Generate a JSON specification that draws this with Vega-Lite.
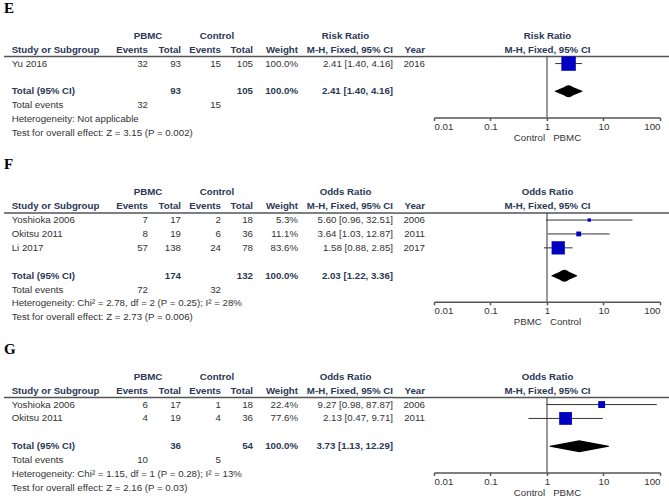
{
"$schema":"https://vega.github.io/schema/vega-lite/v6.json",
"padding":{"left":3,"top":0,"right":0,"bottom":0},
"config":{"view":{"stroke":null},"text":{"font":"Liberation Sans","fontSize":9.7,"baseline":"middle"}},
"datasets":{
"cells":[
{"p":"E","row":"lbl","col":"lbl","text":"E"},
{"p":"E","row":"h1","col":"pbmc_g","text":"PBMC"},
{"p":"E","row":"h1","col":"ctrl_g","text":"Control"},
{"p":"E","row":"h1","col":"ratio_g","text":"Risk Ratio"},
{"p":"E","row":"h1","col":"forest_g","text":"Risk Ratio"},
{"p":"E","row":"h2","col":"study","text":"Study or Subgroup"},
{"p":"E","row":"h2","col":"pe","text":"Events"},
{"p":"E","row":"h2","col":"pt","text":"Total"},
{"p":"E","row":"h2","col":"ce","text":"Events"},
{"p":"E","row":"h2","col":"ct","text":"Total"},
{"p":"E","row":"h2","col":"weight","text":"Weight"},
{"p":"E","row":"h2","col":"ci","text":"M-H, Fixed, 95% CI"},
{"p":"E","row":"h2","col":"year","text":"Year"},
{"p":"E","row":"h2","col":"forest_g","text":"M-H, Fixed, 95% CI"},
{"p":"E","row":"s1","col":"study","text":"Yu 2016"},
{"p":"E","row":"s1","col":"pe","text":"32"},
{"p":"E","row":"s1","col":"pt","text":"93"},
{"p":"E","row":"s1","col":"ce","text":"15"},
{"p":"E","row":"s1","col":"ct","text":"105"},
{"p":"E","row":"s1","col":"weight","text":"100.0%"},
{"p":"E","row":"s1","col":"ci","text":"2.41 [1.40, 4.16]"},
{"p":"E","row":"s1","col":"year","text":"2016"},
{"p":"E","row":"total","col":"study","text":"Total (95% CI)"},
{"p":"E","row":"total","col":"pt","text":"93"},
{"p":"E","row":"total","col":"ct","text":"105"},
{"p":"E","row":"total","col":"weight","text":"100.0%"},
{"p":"E","row":"total","col":"ci","text":"2.41 [1.40, 4.16]"},
{"p":"E","row":"events","col":"study","text":"Total events"},
{"p":"E","row":"events","col":"pe","text":"32"},
{"p":"E","row":"events","col":"ce","text":"15"},
{"p":"E","row":"het","col":"study","text":"Heterogeneity: Not applicable"},
{"p":"E","row":"test","col":"study","text":"Test for overall effect: Z = 3.15 (P = 0.002)"},
{"p":"F","row":"lbl","col":"lbl","text":"F"},
{"p":"F","row":"h1","col":"pbmc_g","text":"PBMC"},
{"p":"F","row":"h1","col":"ctrl_g","text":"Control"},
{"p":"F","row":"h1","col":"ratio_g","text":"Odds Ratio"},
{"p":"F","row":"h1","col":"forest_g","text":"Odds Ratio"},
{"p":"F","row":"h2","col":"study","text":"Study or Subgroup"},
{"p":"F","row":"h2","col":"pe","text":"Events"},
{"p":"F","row":"h2","col":"pt","text":"Total"},
{"p":"F","row":"h2","col":"ce","text":"Events"},
{"p":"F","row":"h2","col":"ct","text":"Total"},
{"p":"F","row":"h2","col":"weight","text":"Weight"},
{"p":"F","row":"h2","col":"ci","text":"M-H, Fixed, 95% CI"},
{"p":"F","row":"h2","col":"year","text":"Year"},
{"p":"F","row":"h2","col":"forest_g","text":"M-H, Fixed, 95% CI"},
{"p":"F","row":"s1","col":"study","text":"Yoshioka 2006"},
{"p":"F","row":"s1","col":"pe","text":"7"},
{"p":"F","row":"s1","col":"pt","text":"17"},
{"p":"F","row":"s1","col":"ce","text":"2"},
{"p":"F","row":"s1","col":"ct","text":"18"},
{"p":"F","row":"s1","col":"weight","text":"5.3%"},
{"p":"F","row":"s1","col":"ci","text":"5.60 [0.96, 32.51]"},
{"p":"F","row":"s1","col":"year","text":"2006"},
{"p":"F","row":"s2","col":"study","text":"Okitsu 2011"},
{"p":"F","row":"s2","col":"pe","text":"8"},
{"p":"F","row":"s2","col":"pt","text":"19"},
{"p":"F","row":"s2","col":"ce","text":"6"},
{"p":"F","row":"s2","col":"ct","text":"36"},
{"p":"F","row":"s2","col":"weight","text":"11.1%"},
{"p":"F","row":"s2","col":"ci","text":"3.64 [1.03, 12.87]"},
{"p":"F","row":"s2","col":"year","text":"2011"},
{"p":"F","row":"s3","col":"study","text":"Li 2017"},
{"p":"F","row":"s3","col":"pe","text":"57"},
{"p":"F","row":"s3","col":"pt","text":"138"},
{"p":"F","row":"s3","col":"ce","text":"24"},
{"p":"F","row":"s3","col":"ct","text":"78"},
{"p":"F","row":"s3","col":"weight","text":"83.6%"},
{"p":"F","row":"s3","col":"ci","text":"1.58 [0.88, 2.85]"},
{"p":"F","row":"s3","col":"year","text":"2017"},
{"p":"F","row":"total","col":"study","text":"Total (95% CI)"},
{"p":"F","row":"total","col":"pt","text":"174"},
{"p":"F","row":"total","col":"ct","text":"132"},
{"p":"F","row":"total","col":"weight","text":"100.0%"},
{"p":"F","row":"total","col":"ci","text":"2.03 [1.22, 3.36]"},
{"p":"F","row":"events","col":"study","text":"Total events"},
{"p":"F","row":"events","col":"pe","text":"72"},
{"p":"F","row":"events","col":"ce","text":"32"},
{"p":"F","row":"het","col":"study","text":"Heterogeneity: Chi² = 2.78, df = 2 (P = 0.25); I² = 28%"},
{"p":"F","row":"test","col":"study","text":"Test for overall effect: Z = 2.73 (P = 0.006)"},
{"p":"G","row":"lbl","col":"lbl","text":"G"},
{"p":"G","row":"h1","col":"pbmc_g","text":"PBMC"},
{"p":"G","row":"h1","col":"ctrl_g","text":"Control"},
{"p":"G","row":"h1","col":"ratio_g","text":"Odds Ratio"},
{"p":"G","row":"h1","col":"forest_g","text":"Odds Ratio"},
{"p":"G","row":"h2","col":"study","text":"Study or Subgroup"},
{"p":"G","row":"h2","col":"pe","text":"Events"},
{"p":"G","row":"h2","col":"pt","text":"Total"},
{"p":"G","row":"h2","col":"ce","text":"Events"},
{"p":"G","row":"h2","col":"ct","text":"Total"},
{"p":"G","row":"h2","col":"weight","text":"Weight"},
{"p":"G","row":"h2","col":"ci","text":"M-H, Fixed, 95% CI"},
{"p":"G","row":"h2","col":"year","text":"Year"},
{"p":"G","row":"h2","col":"forest_g","text":"M-H, Fixed, 95% CI"},
{"p":"G","row":"s1","col":"study","text":"Yoshioka 2006"},
{"p":"G","row":"s1","col":"pe","text":"6"},
{"p":"G","row":"s1","col":"pt","text":"17"},
{"p":"G","row":"s1","col":"ce","text":"1"},
{"p":"G","row":"s1","col":"ct","text":"18"},
{"p":"G","row":"s1","col":"weight","text":"22.4%"},
{"p":"G","row":"s1","col":"ci","text":"9.27 [0.98, 87.87]"},
{"p":"G","row":"s1","col":"year","text":"2006"},
{"p":"G","row":"s2","col":"study","text":"Okitsu 2011"},
{"p":"G","row":"s2","col":"pe","text":"4"},
{"p":"G","row":"s2","col":"pt","text":"19"},
{"p":"G","row":"s2","col":"ce","text":"4"},
{"p":"G","row":"s2","col":"ct","text":"36"},
{"p":"G","row":"s2","col":"weight","text":"77.6%"},
{"p":"G","row":"s2","col":"ci","text":"2.13 [0.47, 9.71]"},
{"p":"G","row":"s2","col":"year","text":"2011"},
{"p":"G","row":"total","col":"study","text":"Total (95% CI)"},
{"p":"G","row":"total","col":"pt","text":"36"},
{"p":"G","row":"total","col":"ct","text":"54"},
{"p":"G","row":"total","col":"weight","text":"100.0%"},
{"p":"G","row":"total","col":"ci","text":"3.73 [1.13, 12.29]"},
{"p":"G","row":"events","col":"study","text":"Total events"},
{"p":"G","row":"events","col":"pe","text":"10"},
{"p":"G","row":"events","col":"ce","text":"5"},
{"p":"G","row":"het","col":"study","text":"Heterogeneity: Chi² = 1.15, df = 1 (P = 0.28); I² = 13%"},
{"p":"G","row":"test","col":"study","text":"Test for overall effect: Z = 2.16 (P = 0.03)"}
],
"studies":[
{"p":"E","row":"s1","est":2.41,"lo":1.40,"hi":4.16,"w":100},
{"p":"F","row":"s1","est":5.60,"lo":0.96,"hi":32.51,"w":5.3},
{"p":"F","row":"s2","est":3.64,"lo":1.03,"hi":12.87,"w":11.1},
{"p":"F","row":"s3","est":1.58,"lo":0.88,"hi":2.85,"w":83.6},
{"p":"G","row":"s1","est":9.27,"lo":0.98,"hi":87.87,"w":22.4},
{"p":"G","row":"s2","est":2.13,"lo":0.47,"hi":9.71,"w":77.6}
],
"pooled":[
{"p":"E","kind":"edge","value":1.40},{"p":"E","kind":"est","value":2.41},{"p":"E","kind":"edge","value":4.16},
{"p":"F","kind":"edge","value":1.22},{"p":"F","kind":"est","value":2.03},{"p":"F","kind":"edge","value":3.36},
{"p":"G","kind":"edge","value":1.13},{"p":"G","kind":"est","value":3.73},{"p":"G","kind":"edge","value":12.29}
]
},
"spacing":14.5,
"resolve":{"scale":{"x":"independent","y":"independent","size":"independent"}},
"vconcat":[
{"spacing":0,"bounds":"flush","resolve":{"scale":{"x":"independent","y":"independent","size":"independent"}},
"hconcat":[
{"width":111,"height":139,"resolve":{"scale":{"x":"independent"}},"layer":[
 {"data":{"name":"cells"},"transform":[{"filter":"datum.p=='E' && datum.col=='lbl'"}],"mark":{"type":"text","align":"left","font":"Liberation Serif","fontSize":15,"fontWeight":"bold","fill":"#000000"},
  "encoding":{"x":{"field":"col","type":"nominal","bandPosition":0,"scale":{"type":"band","domain":["lbl"],"paddingInner":0,"paddingOuter":0},"axis":null},
  "y":{"field":"row","type":"nominal","bandPosition":0.5,"scale":{"type":"band","domain":["lbl","sp","h1","h2","s1","gap","total","events","het","test"],"paddingInner":0,"paddingOuter":0},"axis":null},"text":{"field":"text"}}},
 {"data":{"name":"cells"},"transform":[{"filter":"datum.p=='E' && datum.col=='study'"}],"mark":{"type":"text","align":"left","fontWeight":{"expr":"indexof(['h1','h2','total'],datum.row)>=0?'bold':'normal'"},"fill":{"expr":"indexof(['h1','h2','total'],datum.row)>=0?'#2b3856':'#333333'"}},
  "encoding":{"x":{"field":"col","type":"nominal","bandPosition":0,"scale":{"type":"band","domain":["study"],"paddingInner":0,"paddingOuter":0.08},"axis":null},
  "y":{"field":"row","type":"nominal","bandPosition":0.5,"scale":{"type":"band","domain":["lbl","sp","h1","h2","s1","gap","total","events","het","test"],"paddingInner":0,"paddingOuter":0},"axis":null},"text":{"field":"text"}}},
 {"data":{"values":[{}]},"mark":{"type":"rule","color":"#555555","strokeWidth":1.5},"encoding":{"y":{"datum":"h2","type":"nominal","bandPosition":1,"scale":{"type":"band","domain":["lbl","sp","h1","h2","s1","gap","total","events","het","test"],"paddingInner":0,"paddingOuter":0},"axis":null}}}
]},
{"width":66,"height":139,"layer":[
 {"data":{"name":"cells"},"transform":[{"filter":"datum.p=='E' && (datum.col=='pe' || datum.col=='pt')"}],"mark":{"type":"text","align":"right","fontWeight":{"expr":"indexof(['h1','h2','total'],datum.row)>=0?'bold':'normal'"},"fill":{"expr":"indexof(['h1','h2','total'],datum.row)>=0?'#2b3856':'#333333'"}},
  "encoding":{"x":{"field":"col","type":"nominal","bandPosition":1,"scale":{"type":"band","domain":["pe","pt"],"paddingInner":0,"paddingOuter":0},"axis":null},
  "y":{"field":"row","type":"nominal","bandPosition":0.5,"scale":{"type":"band","domain":["lbl","sp","h1","h2","s1","gap","total","events","het","test"],"paddingInner":0,"paddingOuter":0},"axis":null},"text":{"field":"text"}}},
 {"data":{"name":"cells"},"transform":[{"filter":"datum.p=='E' && datum.col=='pbmc_g'"}],"mark":{"type":"text","align":"center","fontWeight":"bold","fill":"#2b3856"},
  "encoding":{"y":{"field":"row","type":"nominal","bandPosition":0.5,"scale":{"type":"band","domain":["lbl","sp","h1","h2","s1","gap","total","events","het","test"],"paddingInner":0,"paddingOuter":0},"axis":null},"text":{"field":"text"}}},
 {"data":{"values":[{}]},"mark":{"type":"rule","color":"#555555","strokeWidth":1.5},"encoding":{"y":{"datum":"h2","type":"nominal","bandPosition":1,"scale":{"type":"band","domain":["lbl","sp","h1","h2","s1","gap","total","events","het","test"],"paddingInner":0,"paddingOuter":0},"axis":null}}}
]},
{"width":72,"height":139,"layer":[
 {"data":{"name":"cells"},"transform":[{"filter":"datum.p=='E' && (datum.col=='ce' || datum.col=='ct')"}],"mark":{"type":"text","align":"right","fontWeight":{"expr":"indexof(['h1','h2','total'],datum.row)>=0?'bold':'normal'"},"fill":{"expr":"indexof(['h1','h2','total'],datum.row)>=0?'#2b3856':'#333333'"}},
  "encoding":{"x":{"field":"col","type":"nominal","bandPosition":1,"scale":{"type":"band","domain":["ce","ct"],"paddingInner":0,"paddingOuter":0.125,"align":1},"axis":null},
  "y":{"field":"row","type":"nominal","bandPosition":0.5,"scale":{"type":"band","domain":["lbl","sp","h1","h2","s1","gap","total","events","het","test"],"paddingInner":0,"paddingOuter":0},"axis":null},"text":{"field":"text"}}},
 {"data":{"name":"cells"},"transform":[{"filter":"datum.p=='E' && datum.col=='ctrl_g'"}],"mark":{"type":"text","align":"center","fontWeight":"bold","fill":"#2b3856"},
  "encoding":{"y":{"field":"row","type":"nominal","bandPosition":0.5,"scale":{"type":"band","domain":["lbl","sp","h1","h2","s1","gap","total","events","het","test"],"paddingInner":0,"paddingOuter":0},"axis":null},"text":{"field":"text"}}},
 {"data":{"values":[{}]},"mark":{"type":"rule","color":"#555555","strokeWidth":1.5},"encoding":{"y":{"datum":"h2","type":"nominal","bandPosition":1,"scale":{"type":"band","domain":["lbl","sp","h1","h2","s1","gap","total","events","het","test"],"paddingInner":0,"paddingOuter":0},"axis":null}}}
]},
{"width":45,"height":139,"layer":[
 {"data":{"name":"cells"},"transform":[{"filter":"datum.p=='E' && datum.col=='weight'"}],"mark":{"type":"text","align":"right","fontWeight":{"expr":"indexof(['h1','h2','total'],datum.row)>=0?'bold':'normal'"},"fill":{"expr":"indexof(['h1','h2','total'],datum.row)>=0?'#2b3856':'#333333'"}},
  "encoding":{"x":{"field":"col","type":"nominal","bandPosition":1,"scale":{"type":"band","domain":["weight"],"paddingInner":0,"paddingOuter":0},"axis":null},
  "y":{"field":"row","type":"nominal","bandPosition":0.5,"scale":{"type":"band","domain":["lbl","sp","h1","h2","s1","gap","total","events","het","test"],"paddingInner":0,"paddingOuter":0},"axis":null},"text":{"field":"text"}}},
 {"data":{"values":[{}]},"mark":{"type":"rule","color":"#555555","strokeWidth":1.5},"encoding":{"y":{"datum":"h2","type":"nominal","bandPosition":1,"scale":{"type":"band","domain":["lbl","sp","h1","h2","s1","gap","total","events","het","test"],"paddingInner":0,"paddingOuter":0},"axis":null}}}
]},
{"width":95,"height":139,"layer":[
 {"data":{"name":"cells"},"transform":[{"filter":"datum.p=='E' && datum.col=='ci'"}],"mark":{"type":"text","align":"right","fontWeight":{"expr":"indexof(['h1','h2','total'],datum.row)>=0?'bold':'normal'"},"fill":{"expr":"indexof(['h1','h2','total'],datum.row)>=0?'#2b3856':'#333333'"}},
  "encoding":{"x":{"field":"col","type":"nominal","bandPosition":1,"scale":{"type":"band","domain":["ci"],"paddingInner":0,"paddingOuter":0},"axis":null},
  "y":{"field":"row","type":"nominal","bandPosition":0.5,"scale":{"type":"band","domain":["lbl","sp","h1","h2","s1","gap","total","events","het","test"],"paddingInner":0,"paddingOuter":0},"axis":null},"text":{"field":"text"}}},
 {"data":{"name":"cells"},"transform":[{"filter":"datum.p=='E' && datum.col=='ratio_g'"}],"mark":{"type":"text","align":"center","fontWeight":"bold","fill":"#2b3856"},
  "encoding":{"y":{"field":"row","type":"nominal","bandPosition":0.5,"scale":{"type":"band","domain":["lbl","sp","h1","h2","s1","gap","total","events","het","test"],"paddingInner":0,"paddingOuter":0},"axis":null},"text":{"field":"text"}}},
 {"data":{"values":[{}]},"mark":{"type":"rule","color":"#555555","strokeWidth":1.5},"encoding":{"y":{"datum":"h2","type":"nominal","bandPosition":1,"scale":{"type":"band","domain":["lbl","sp","h1","h2","s1","gap","total","events","het","test"],"paddingInner":0,"paddingOuter":0},"axis":null}}}
]},
{"width":32,"height":139,"layer":[
 {"data":{"name":"cells"},"transform":[{"filter":"datum.p=='E' && datum.col=='year'"}],"mark":{"type":"text","align":"right","fontWeight":{"expr":"indexof(['h1','h2','total'],datum.row)>=0?'bold':'normal'"},"fill":{"expr":"indexof(['h1','h2','total'],datum.row)>=0?'#2b3856':'#333333'"}},
  "encoding":{"x":{"field":"col","type":"nominal","bandPosition":1,"scale":{"type":"band","domain":["year"],"paddingInner":0,"paddingOuter":0},"axis":null},
  "y":{"field":"row","type":"nominal","bandPosition":0.5,"scale":{"type":"band","domain":["lbl","sp","h1","h2","s1","gap","total","events","het","test"],"paddingInner":0,"paddingOuter":0},"axis":null},"text":{"field":"text"}}},
 {"data":{"values":[{}]},"mark":{"type":"rule","color":"#555555","strokeWidth":1.5},"encoding":{"y":{"datum":"h2","type":"nominal","bandPosition":1,"scale":{"type":"band","domain":["lbl","sp","h1","h2","s1","gap","total","events","het","test"],"paddingInner":0,"paddingOuter":0},"axis":null}}}
]},
{"width":245,"height":139,"resolve":{"scale":{"size":"independent"}},"layer":[
 {"data":{"values":[{}]},"mark":{"type":"rule","color":"#555555","strokeWidth":1.5},"encoding":{"y":{"datum":"h2","type":"nominal","bandPosition":1,"scale":{"type":"band","domain":["lbl","sp","h1","h2","s1","gap","total","events","het","test"],"paddingInner":0,"paddingOuter":0},"axis":null}}},
 {"data":{"name":"cells"},"transform":[{"filter":"datum.p=='E' && datum.col=='forest_g'"}],"mark":{"type":"text","align":"center","fontWeight":"bold","fill":"#2b3856"},
  "encoding":{"y":{"field":"row","type":"nominal","bandPosition":0.5,"scale":{"type":"band","domain":["lbl","sp","h1","h2","s1","gap","total","events","het","test"],"paddingInner":0,"paddingOuter":0},"axis":null},"text":{"field":"text"}}},
 {"data":{"values":[{}]},"mark":{"type":"rule","color":"#333333","strokeWidth":1},"encoding":{
  "x":{"datum":1,"type":"quantitative","scale":{"type":"log","domain":[0.01,100],"range":[9,235],"nice":false},
   "axis":{"orient":"bottom","offset":-22.5,"values":[0.01,0.1,1,10,100],"format":".2~f","labelFlush":true,"grid":false,"tickSize":3,"tickColor":"#555555","tickWidth":1.5,"domainColor":"#555555","domainWidth":1.5,"labelFont":"Liberation Sans","labelFontSize":9.7,"labelColor":"#333333","labelPadding":1,"title":"Control\u00a0\u00a0\u00a0PBMC\u00a0","titleFont":"Liberation Sans","titleFontSize":9.7,"titleFontWeight":"normal","titleColor":"#333333","titlePadding":1}},
  "y":{"datum":"h2","type":"nominal","bandPosition":1,"scale":{"type":"band","domain":["lbl","sp","h1","h2","s1","gap","total","events","het","test"],"paddingInner":0,"paddingOuter":0},"axis":null},
  "y2":{"datum":"het","bandPosition":0.38}}},
 {"data":{"name":"studies"},"transform":[{"filter":"datum.p=='E'"}],"mark":{"type":"rule","color":"#333333","strokeWidth":1},"encoding":{
  "x":{"field":"lo","type":"quantitative","scale":{"type":"log","domain":[0.01,100],"range":[9,235],"nice":false}},"x2":{"field":"hi"},
  "y":{"field":"row","type":"nominal","bandPosition":0.5,"scale":{"type":"band","domain":["lbl","sp","h1","h2","s1","gap","total","events","het","test"],"paddingInner":0,"paddingOuter":0},"axis":null}}},
 {"data":{"name":"studies"},"transform":[{"filter":"datum.p=='E'"}],"mark":{"type":"square","filled":true,"color":"#0000c0","opacity":1},"encoding":{
  "x":{"field":"est","type":"quantitative","scale":{"type":"log","domain":[0.01,100],"range":[9,235],"nice":false}},
  "y":{"field":"row","type":"nominal","bandPosition":0.5,"scale":{"type":"band","domain":["lbl","sp","h1","h2","s1","gap","total","events","het","test"],"paddingInner":0,"paddingOuter":0},"axis":null},
  "size":{"field":"w","type":"quantitative","scale":{"domain":[0,100],"range":[0,210]},"legend":null}}},
 {"data":{"name":"pooled"},"transform":[{"filter":"datum.p=='E'"}],"mark":{"type":"trail","color":"#000000"},"encoding":{
  "x":{"field":"value","type":"quantitative","scale":{"type":"log","domain":[0.01,100],"range":[9,235],"nice":false}},
  "y":{"datum":"total","type":"nominal","bandPosition":0.5,"scale":{"type":"band","domain":["lbl","sp","h1","h2","s1","gap","total","events","het","test"],"paddingInner":0,"paddingOuter":0},"axis":null},
  "size":{"field":"kind","type":"nominal","scale":{"type":"point","domain":["edge","est"],"range":[0,12],"padding":0},"legend":null}}}
]}
]},
{"spacing":0,"bounds":"flush","resolve":{"scale":{"x":"independent","y":"independent","size":"independent"}},
"hconcat":[
{"width":111,"height":166.8,"resolve":{"scale":{"x":"independent"}},"layer":[
 {"data":{"name":"cells"},"transform":[{"filter":"datum.p=='F' && datum.col=='lbl'"}],"mark":{"type":"text","align":"left","font":"Liberation Serif","fontSize":15,"fontWeight":"bold","fill":"#000000"},
  "encoding":{"x":{"field":"col","type":"nominal","bandPosition":0,"scale":{"type":"band","domain":["lbl"],"paddingInner":0,"paddingOuter":0},"axis":null},
  "y":{"field":"row","type":"nominal","bandPosition":0.5,"scale":{"type":"band","domain":["lbl","sp","h1","h2","s1","s2","s3","gap","total","events","het","test"],"paddingInner":0,"paddingOuter":0},"axis":null},"text":{"field":"text"}}},
 {"data":{"name":"cells"},"transform":[{"filter":"datum.p=='F' && datum.col=='study'"}],"mark":{"type":"text","align":"left","fontWeight":{"expr":"indexof(['h1','h2','total'],datum.row)>=0?'bold':'normal'"},"fill":{"expr":"indexof(['h1','h2','total'],datum.row)>=0?'#2b3856':'#333333'"}},
  "encoding":{"x":{"field":"col","type":"nominal","bandPosition":0,"scale":{"type":"band","domain":["study"],"paddingInner":0,"paddingOuter":0.08},"axis":null},
  "y":{"field":"row","type":"nominal","bandPosition":0.5,"scale":{"type":"band","domain":["lbl","sp","h1","h2","s1","s2","s3","gap","total","events","het","test"],"paddingInner":0,"paddingOuter":0},"axis":null},"text":{"field":"text"}}},
 {"data":{"values":[{}]},"mark":{"type":"rule","color":"#555555","strokeWidth":1.5},"encoding":{"y":{"datum":"h2","type":"nominal","bandPosition":1,"scale":{"type":"band","domain":["lbl","sp","h1","h2","s1","s2","s3","gap","total","events","het","test"],"paddingInner":0,"paddingOuter":0},"axis":null}}}
]},
{"width":66,"height":166.8,"layer":[
 {"data":{"name":"cells"},"transform":[{"filter":"datum.p=='F' && (datum.col=='pe' || datum.col=='pt')"}],"mark":{"type":"text","align":"right","fontWeight":{"expr":"indexof(['h1','h2','total'],datum.row)>=0?'bold':'normal'"},"fill":{"expr":"indexof(['h1','h2','total'],datum.row)>=0?'#2b3856':'#333333'"}},
  "encoding":{"x":{"field":"col","type":"nominal","bandPosition":1,"scale":{"type":"band","domain":["pe","pt"],"paddingInner":0,"paddingOuter":0},"axis":null},
  "y":{"field":"row","type":"nominal","bandPosition":0.5,"scale":{"type":"band","domain":["lbl","sp","h1","h2","s1","s2","s3","gap","total","events","het","test"],"paddingInner":0,"paddingOuter":0},"axis":null},"text":{"field":"text"}}},
 {"data":{"name":"cells"},"transform":[{"filter":"datum.p=='F' && datum.col=='pbmc_g'"}],"mark":{"type":"text","align":"center","fontWeight":"bold","fill":"#2b3856"},
  "encoding":{"y":{"field":"row","type":"nominal","bandPosition":0.5,"scale":{"type":"band","domain":["lbl","sp","h1","h2","s1","s2","s3","gap","total","events","het","test"],"paddingInner":0,"paddingOuter":0},"axis":null},"text":{"field":"text"}}},
 {"data":{"values":[{}]},"mark":{"type":"rule","color":"#555555","strokeWidth":1.5},"encoding":{"y":{"datum":"h2","type":"nominal","bandPosition":1,"scale":{"type":"band","domain":["lbl","sp","h1","h2","s1","s2","s3","gap","total","events","het","test"],"paddingInner":0,"paddingOuter":0},"axis":null}}}
]},
{"width":72,"height":166.8,"layer":[
 {"data":{"name":"cells"},"transform":[{"filter":"datum.p=='F' && (datum.col=='ce' || datum.col=='ct')"}],"mark":{"type":"text","align":"right","fontWeight":{"expr":"indexof(['h1','h2','total'],datum.row)>=0?'bold':'normal'"},"fill":{"expr":"indexof(['h1','h2','total'],datum.row)>=0?'#2b3856':'#333333'"}},
  "encoding":{"x":{"field":"col","type":"nominal","bandPosition":1,"scale":{"type":"band","domain":["ce","ct"],"paddingInner":0,"paddingOuter":0.125,"align":1},"axis":null},
  "y":{"field":"row","type":"nominal","bandPosition":0.5,"scale":{"type":"band","domain":["lbl","sp","h1","h2","s1","s2","s3","gap","total","events","het","test"],"paddingInner":0,"paddingOuter":0},"axis":null},"text":{"field":"text"}}},
 {"data":{"name":"cells"},"transform":[{"filter":"datum.p=='F' && datum.col=='ctrl_g'"}],"mark":{"type":"text","align":"center","fontWeight":"bold","fill":"#2b3856"},
  "encoding":{"y":{"field":"row","type":"nominal","bandPosition":0.5,"scale":{"type":"band","domain":["lbl","sp","h1","h2","s1","s2","s3","gap","total","events","het","test"],"paddingInner":0,"paddingOuter":0},"axis":null},"text":{"field":"text"}}},
 {"data":{"values":[{}]},"mark":{"type":"rule","color":"#555555","strokeWidth":1.5},"encoding":{"y":{"datum":"h2","type":"nominal","bandPosition":1,"scale":{"type":"band","domain":["lbl","sp","h1","h2","s1","s2","s3","gap","total","events","het","test"],"paddingInner":0,"paddingOuter":0},"axis":null}}}
]},
{"width":45,"height":166.8,"layer":[
 {"data":{"name":"cells"},"transform":[{"filter":"datum.p=='F' && datum.col=='weight'"}],"mark":{"type":"text","align":"right","fontWeight":{"expr":"indexof(['h1','h2','total'],datum.row)>=0?'bold':'normal'"},"fill":{"expr":"indexof(['h1','h2','total'],datum.row)>=0?'#2b3856':'#333333'"}},
  "encoding":{"x":{"field":"col","type":"nominal","bandPosition":1,"scale":{"type":"band","domain":["weight"],"paddingInner":0,"paddingOuter":0},"axis":null},
  "y":{"field":"row","type":"nominal","bandPosition":0.5,"scale":{"type":"band","domain":["lbl","sp","h1","h2","s1","s2","s3","gap","total","events","het","test"],"paddingInner":0,"paddingOuter":0},"axis":null},"text":{"field":"text"}}},
 {"data":{"values":[{}]},"mark":{"type":"rule","color":"#555555","strokeWidth":1.5},"encoding":{"y":{"datum":"h2","type":"nominal","bandPosition":1,"scale":{"type":"band","domain":["lbl","sp","h1","h2","s1","s2","s3","gap","total","events","het","test"],"paddingInner":0,"paddingOuter":0},"axis":null}}}
]},
{"width":95,"height":166.8,"layer":[
 {"data":{"name":"cells"},"transform":[{"filter":"datum.p=='F' && datum.col=='ci'"}],"mark":{"type":"text","align":"right","fontWeight":{"expr":"indexof(['h1','h2','total'],datum.row)>=0?'bold':'normal'"},"fill":{"expr":"indexof(['h1','h2','total'],datum.row)>=0?'#2b3856':'#333333'"}},
  "encoding":{"x":{"field":"col","type":"nominal","bandPosition":1,"scale":{"type":"band","domain":["ci"],"paddingInner":0,"paddingOuter":0},"axis":null},
  "y":{"field":"row","type":"nominal","bandPosition":0.5,"scale":{"type":"band","domain":["lbl","sp","h1","h2","s1","s2","s3","gap","total","events","het","test"],"paddingInner":0,"paddingOuter":0},"axis":null},"text":{"field":"text"}}},
 {"data":{"name":"cells"},"transform":[{"filter":"datum.p=='F' && datum.col=='ratio_g'"}],"mark":{"type":"text","align":"center","fontWeight":"bold","fill":"#2b3856"},
  "encoding":{"y":{"field":"row","type":"nominal","bandPosition":0.5,"scale":{"type":"band","domain":["lbl","sp","h1","h2","s1","s2","s3","gap","total","events","het","test"],"paddingInner":0,"paddingOuter":0},"axis":null},"text":{"field":"text"}}},
 {"data":{"values":[{}]},"mark":{"type":"rule","color":"#555555","strokeWidth":1.5},"encoding":{"y":{"datum":"h2","type":"nominal","bandPosition":1,"scale":{"type":"band","domain":["lbl","sp","h1","h2","s1","s2","s3","gap","total","events","het","test"],"paddingInner":0,"paddingOuter":0},"axis":null}}}
]},
{"width":32,"height":166.8,"layer":[
 {"data":{"name":"cells"},"transform":[{"filter":"datum.p=='F' && datum.col=='year'"}],"mark":{"type":"text","align":"right","fontWeight":{"expr":"indexof(['h1','h2','total'],datum.row)>=0?'bold':'normal'"},"fill":{"expr":"indexof(['h1','h2','total'],datum.row)>=0?'#2b3856':'#333333'"}},
  "encoding":{"x":{"field":"col","type":"nominal","bandPosition":1,"scale":{"type":"band","domain":["year"],"paddingInner":0,"paddingOuter":0},"axis":null},
  "y":{"field":"row","type":"nominal","bandPosition":0.5,"scale":{"type":"band","domain":["lbl","sp","h1","h2","s1","s2","s3","gap","total","events","het","test"],"paddingInner":0,"paddingOuter":0},"axis":null},"text":{"field":"text"}}},
 {"data":{"values":[{}]},"mark":{"type":"rule","color":"#555555","strokeWidth":1.5},"encoding":{"y":{"datum":"h2","type":"nominal","bandPosition":1,"scale":{"type":"band","domain":["lbl","sp","h1","h2","s1","s2","s3","gap","total","events","het","test"],"paddingInner":0,"paddingOuter":0},"axis":null}}}
]},
{"width":245,"height":166.8,"resolve":{"scale":{"size":"independent"}},"layer":[
 {"data":{"values":[{}]},"mark":{"type":"rule","color":"#555555","strokeWidth":1.5},"encoding":{"y":{"datum":"h2","type":"nominal","bandPosition":1,"scale":{"type":"band","domain":["lbl","sp","h1","h2","s1","s2","s3","gap","total","events","het","test"],"paddingInner":0,"paddingOuter":0},"axis":null}}},
 {"data":{"name":"cells"},"transform":[{"filter":"datum.p=='F' && datum.col=='forest_g'"}],"mark":{"type":"text","align":"center","fontWeight":"bold","fill":"#2b3856"},
  "encoding":{"y":{"field":"row","type":"nominal","bandPosition":0.5,"scale":{"type":"band","domain":["lbl","sp","h1","h2","s1","s2","s3","gap","total","events","het","test"],"paddingInner":0,"paddingOuter":0},"axis":null},"text":{"field":"text"}}},
 {"data":{"values":[{}]},"mark":{"type":"rule","color":"#333333","strokeWidth":1},"encoding":{
  "x":{"datum":1,"type":"quantitative","scale":{"type":"log","domain":[0.01,100],"range":[9,235],"nice":false},
   "axis":{"orient":"bottom","offset":-22.5,"values":[0.01,0.1,1,10,100],"format":".2~f","labelFlush":true,"grid":false,"tickSize":3,"tickColor":"#555555","tickWidth":1.5,"domainColor":"#555555","domainWidth":1.5,"labelFont":"Liberation Sans","labelFontSize":9.7,"labelColor":"#333333","labelPadding":1,"title":"\u00a0PBMC\u00a0\u00a0\u00a0Control","titleFont":"Liberation Sans","titleFontSize":9.7,"titleFontWeight":"normal","titleColor":"#333333","titlePadding":1}},
  "y":{"datum":"h2","type":"nominal","bandPosition":1,"scale":{"type":"band","domain":["lbl","sp","h1","h2","s1","s2","s3","gap","total","events","het","test"],"paddingInner":0,"paddingOuter":0},"axis":null},
  "y2":{"datum":"het","bandPosition":0.38}}},
 {"data":{"name":"studies"},"transform":[{"filter":"datum.p=='F'"}],"mark":{"type":"rule","color":"#333333","strokeWidth":1},"encoding":{
  "x":{"field":"lo","type":"quantitative","scale":{"type":"log","domain":[0.01,100],"range":[9,235],"nice":false}},"x2":{"field":"hi"},
  "y":{"field":"row","type":"nominal","bandPosition":0.5,"scale":{"type":"band","domain":["lbl","sp","h1","h2","s1","s2","s3","gap","total","events","het","test"],"paddingInner":0,"paddingOuter":0},"axis":null}}},
 {"data":{"name":"studies"},"transform":[{"filter":"datum.p=='F'"}],"mark":{"type":"square","filled":true,"color":"#0000c0","opacity":1},"encoding":{
  "x":{"field":"est","type":"quantitative","scale":{"type":"log","domain":[0.01,100],"range":[9,235],"nice":false}},
  "y":{"field":"row","type":"nominal","bandPosition":0.5,"scale":{"type":"band","domain":["lbl","sp","h1","h2","s1","s2","s3","gap","total","events","het","test"],"paddingInner":0,"paddingOuter":0},"axis":null},
  "size":{"field":"w","type":"quantitative","scale":{"domain":[0,100],"range":[0,210]},"legend":null}}},
 {"data":{"name":"pooled"},"transform":[{"filter":"datum.p=='F'"}],"mark":{"type":"trail","color":"#000000"},"encoding":{
  "x":{"field":"value","type":"quantitative","scale":{"type":"log","domain":[0.01,100],"range":[9,235],"nice":false}},
  "y":{"datum":"total","type":"nominal","bandPosition":0.5,"scale":{"type":"band","domain":["lbl","sp","h1","h2","s1","s2","s3","gap","total","events","het","test"],"paddingInner":0,"paddingOuter":0},"axis":null},
  "size":{"field":"kind","type":"nominal","scale":{"type":"point","domain":["edge","est"],"range":[0,12],"padding":0},"legend":null}}}
]}
]},
{"spacing":0,"bounds":"flush","resolve":{"scale":{"x":"independent","y":"independent","size":"independent"}},
"hconcat":[
{"width":111,"height":152.9,"resolve":{"scale":{"x":"independent"}},"layer":[
 {"data":{"name":"cells"},"transform":[{"filter":"datum.p=='G' && datum.col=='lbl'"}],"mark":{"type":"text","align":"left","font":"Liberation Serif","fontSize":15,"fontWeight":"bold","fill":"#000000"},
  "encoding":{"x":{"field":"col","type":"nominal","bandPosition":0,"scale":{"type":"band","domain":["lbl"],"paddingInner":0,"paddingOuter":0},"axis":null},
  "y":{"field":"row","type":"nominal","bandPosition":0.5,"scale":{"type":"band","domain":["lbl","sp","h1","h2","s1","s2","gap","total","events","het","test"],"paddingInner":0,"paddingOuter":0},"axis":null},"text":{"field":"text"}}},
 {"data":{"name":"cells"},"transform":[{"filter":"datum.p=='G' && datum.col=='study'"}],"mark":{"type":"text","align":"left","fontWeight":{"expr":"indexof(['h1','h2','total'],datum.row)>=0?'bold':'normal'"},"fill":{"expr":"indexof(['h1','h2','total'],datum.row)>=0?'#2b3856':'#333333'"}},
  "encoding":{"x":{"field":"col","type":"nominal","bandPosition":0,"scale":{"type":"band","domain":["study"],"paddingInner":0,"paddingOuter":0.08},"axis":null},
  "y":{"field":"row","type":"nominal","bandPosition":0.5,"scale":{"type":"band","domain":["lbl","sp","h1","h2","s1","s2","gap","total","events","het","test"],"paddingInner":0,"paddingOuter":0},"axis":null},"text":{"field":"text"}}},
 {"data":{"values":[{}]},"mark":{"type":"rule","color":"#555555","strokeWidth":1.5},"encoding":{"y":{"datum":"h2","type":"nominal","bandPosition":1,"scale":{"type":"band","domain":["lbl","sp","h1","h2","s1","s2","gap","total","events","het","test"],"paddingInner":0,"paddingOuter":0},"axis":null}}}
]},
{"width":66,"height":152.9,"layer":[
 {"data":{"name":"cells"},"transform":[{"filter":"datum.p=='G' && (datum.col=='pe' || datum.col=='pt')"}],"mark":{"type":"text","align":"right","fontWeight":{"expr":"indexof(['h1','h2','total'],datum.row)>=0?'bold':'normal'"},"fill":{"expr":"indexof(['h1','h2','total'],datum.row)>=0?'#2b3856':'#333333'"}},
  "encoding":{"x":{"field":"col","type":"nominal","bandPosition":1,"scale":{"type":"band","domain":["pe","pt"],"paddingInner":0,"paddingOuter":0},"axis":null},
  "y":{"field":"row","type":"nominal","bandPosition":0.5,"scale":{"type":"band","domain":["lbl","sp","h1","h2","s1","s2","gap","total","events","het","test"],"paddingInner":0,"paddingOuter":0},"axis":null},"text":{"field":"text"}}},
 {"data":{"name":"cells"},"transform":[{"filter":"datum.p=='G' && datum.col=='pbmc_g'"}],"mark":{"type":"text","align":"center","fontWeight":"bold","fill":"#2b3856"},
  "encoding":{"y":{"field":"row","type":"nominal","bandPosition":0.5,"scale":{"type":"band","domain":["lbl","sp","h1","h2","s1","s2","gap","total","events","het","test"],"paddingInner":0,"paddingOuter":0},"axis":null},"text":{"field":"text"}}},
 {"data":{"values":[{}]},"mark":{"type":"rule","color":"#555555","strokeWidth":1.5},"encoding":{"y":{"datum":"h2","type":"nominal","bandPosition":1,"scale":{"type":"band","domain":["lbl","sp","h1","h2","s1","s2","gap","total","events","het","test"],"paddingInner":0,"paddingOuter":0},"axis":null}}}
]},
{"width":72,"height":152.9,"layer":[
 {"data":{"name":"cells"},"transform":[{"filter":"datum.p=='G' && (datum.col=='ce' || datum.col=='ct')"}],"mark":{"type":"text","align":"right","fontWeight":{"expr":"indexof(['h1','h2','total'],datum.row)>=0?'bold':'normal'"},"fill":{"expr":"indexof(['h1','h2','total'],datum.row)>=0?'#2b3856':'#333333'"}},
  "encoding":{"x":{"field":"col","type":"nominal","bandPosition":1,"scale":{"type":"band","domain":["ce","ct"],"paddingInner":0,"paddingOuter":0.125,"align":1},"axis":null},
  "y":{"field":"row","type":"nominal","bandPosition":0.5,"scale":{"type":"band","domain":["lbl","sp","h1","h2","s1","s2","gap","total","events","het","test"],"paddingInner":0,"paddingOuter":0},"axis":null},"text":{"field":"text"}}},
 {"data":{"name":"cells"},"transform":[{"filter":"datum.p=='G' && datum.col=='ctrl_g'"}],"mark":{"type":"text","align":"center","fontWeight":"bold","fill":"#2b3856"},
  "encoding":{"y":{"field":"row","type":"nominal","bandPosition":0.5,"scale":{"type":"band","domain":["lbl","sp","h1","h2","s1","s2","gap","total","events","het","test"],"paddingInner":0,"paddingOuter":0},"axis":null},"text":{"field":"text"}}},
 {"data":{"values":[{}]},"mark":{"type":"rule","color":"#555555","strokeWidth":1.5},"encoding":{"y":{"datum":"h2","type":"nominal","bandPosition":1,"scale":{"type":"band","domain":["lbl","sp","h1","h2","s1","s2","gap","total","events","het","test"],"paddingInner":0,"paddingOuter":0},"axis":null}}}
]},
{"width":45,"height":152.9,"layer":[
 {"data":{"name":"cells"},"transform":[{"filter":"datum.p=='G' && datum.col=='weight'"}],"mark":{"type":"text","align":"right","fontWeight":{"expr":"indexof(['h1','h2','total'],datum.row)>=0?'bold':'normal'"},"fill":{"expr":"indexof(['h1','h2','total'],datum.row)>=0?'#2b3856':'#333333'"}},
  "encoding":{"x":{"field":"col","type":"nominal","bandPosition":1,"scale":{"type":"band","domain":["weight"],"paddingInner":0,"paddingOuter":0},"axis":null},
  "y":{"field":"row","type":"nominal","bandPosition":0.5,"scale":{"type":"band","domain":["lbl","sp","h1","h2","s1","s2","gap","total","events","het","test"],"paddingInner":0,"paddingOuter":0},"axis":null},"text":{"field":"text"}}},
 {"data":{"values":[{}]},"mark":{"type":"rule","color":"#555555","strokeWidth":1.5},"encoding":{"y":{"datum":"h2","type":"nominal","bandPosition":1,"scale":{"type":"band","domain":["lbl","sp","h1","h2","s1","s2","gap","total","events","het","test"],"paddingInner":0,"paddingOuter":0},"axis":null}}}
]},
{"width":95,"height":152.9,"layer":[
 {"data":{"name":"cells"},"transform":[{"filter":"datum.p=='G' && datum.col=='ci'"}],"mark":{"type":"text","align":"right","fontWeight":{"expr":"indexof(['h1','h2','total'],datum.row)>=0?'bold':'normal'"},"fill":{"expr":"indexof(['h1','h2','total'],datum.row)>=0?'#2b3856':'#333333'"}},
  "encoding":{"x":{"field":"col","type":"nominal","bandPosition":1,"scale":{"type":"band","domain":["ci"],"paddingInner":0,"paddingOuter":0},"axis":null},
  "y":{"field":"row","type":"nominal","bandPosition":0.5,"scale":{"type":"band","domain":["lbl","sp","h1","h2","s1","s2","gap","total","events","het","test"],"paddingInner":0,"paddingOuter":0},"axis":null},"text":{"field":"text"}}},
 {"data":{"name":"cells"},"transform":[{"filter":"datum.p=='G' && datum.col=='ratio_g'"}],"mark":{"type":"text","align":"center","fontWeight":"bold","fill":"#2b3856"},
  "encoding":{"y":{"field":"row","type":"nominal","bandPosition":0.5,"scale":{"type":"band","domain":["lbl","sp","h1","h2","s1","s2","gap","total","events","het","test"],"paddingInner":0,"paddingOuter":0},"axis":null},"text":{"field":"text"}}},
 {"data":{"values":[{}]},"mark":{"type":"rule","color":"#555555","strokeWidth":1.5},"encoding":{"y":{"datum":"h2","type":"nominal","bandPosition":1,"scale":{"type":"band","domain":["lbl","sp","h1","h2","s1","s2","gap","total","events","het","test"],"paddingInner":0,"paddingOuter":0},"axis":null}}}
]},
{"width":32,"height":152.9,"layer":[
 {"data":{"name":"cells"},"transform":[{"filter":"datum.p=='G' && datum.col=='year'"}],"mark":{"type":"text","align":"right","fontWeight":{"expr":"indexof(['h1','h2','total'],datum.row)>=0?'bold':'normal'"},"fill":{"expr":"indexof(['h1','h2','total'],datum.row)>=0?'#2b3856':'#333333'"}},
  "encoding":{"x":{"field":"col","type":"nominal","bandPosition":1,"scale":{"type":"band","domain":["year"],"paddingInner":0,"paddingOuter":0},"axis":null},
  "y":{"field":"row","type":"nominal","bandPosition":0.5,"scale":{"type":"band","domain":["lbl","sp","h1","h2","s1","s2","gap","total","events","het","test"],"paddingInner":0,"paddingOuter":0},"axis":null},"text":{"field":"text"}}},
 {"data":{"values":[{}]},"mark":{"type":"rule","color":"#555555","strokeWidth":1.5},"encoding":{"y":{"datum":"h2","type":"nominal","bandPosition":1,"scale":{"type":"band","domain":["lbl","sp","h1","h2","s1","s2","gap","total","events","het","test"],"paddingInner":0,"paddingOuter":0},"axis":null}}}
]},
{"width":245,"height":152.9,"resolve":{"scale":{"size":"independent"}},"layer":[
 {"data":{"values":[{}]},"mark":{"type":"rule","color":"#555555","strokeWidth":1.5},"encoding":{"y":{"datum":"h2","type":"nominal","bandPosition":1,"scale":{"type":"band","domain":["lbl","sp","h1","h2","s1","s2","gap","total","events","het","test"],"paddingInner":0,"paddingOuter":0},"axis":null}}},
 {"data":{"name":"cells"},"transform":[{"filter":"datum.p=='G' && datum.col=='forest_g'"}],"mark":{"type":"text","align":"center","fontWeight":"bold","fill":"#2b3856"},
  "encoding":{"y":{"field":"row","type":"nominal","bandPosition":0.5,"scale":{"type":"band","domain":["lbl","sp","h1","h2","s1","s2","gap","total","events","het","test"],"paddingInner":0,"paddingOuter":0},"axis":null},"text":{"field":"text"}}},
 {"data":{"values":[{}]},"mark":{"type":"rule","color":"#333333","strokeWidth":1},"encoding":{
  "x":{"datum":1,"type":"quantitative","scale":{"type":"log","domain":[0.01,100],"range":[9,235],"nice":false},
   "axis":{"orient":"bottom","offset":-22.5,"values":[0.01,0.1,1,10,100],"format":".2~f","labelFlush":true,"grid":false,"tickSize":3,"tickColor":"#555555","tickWidth":1.5,"domainColor":"#555555","domainWidth":1.5,"labelFont":"Liberation Sans","labelFontSize":9.7,"labelColor":"#333333","labelPadding":1,"title":"Control\u00a0\u00a0\u00a0PBMC\u00a0","titleFont":"Liberation Sans","titleFontSize":9.7,"titleFontWeight":"normal","titleColor":"#333333","titlePadding":1}},
  "y":{"datum":"h2","type":"nominal","bandPosition":1,"scale":{"type":"band","domain":["lbl","sp","h1","h2","s1","s2","gap","total","events","het","test"],"paddingInner":0,"paddingOuter":0},"axis":null},
  "y2":{"datum":"het","bandPosition":0.38}}},
 {"data":{"name":"studies"},"transform":[{"filter":"datum.p=='G'"}],"mark":{"type":"rule","color":"#333333","strokeWidth":1},"encoding":{
  "x":{"field":"lo","type":"quantitative","scale":{"type":"log","domain":[0.01,100],"range":[9,235],"nice":false}},"x2":{"field":"hi"},
  "y":{"field":"row","type":"nominal","bandPosition":0.5,"scale":{"type":"band","domain":["lbl","sp","h1","h2","s1","s2","gap","total","events","het","test"],"paddingInner":0,"paddingOuter":0},"axis":null}}},
 {"data":{"name":"studies"},"transform":[{"filter":"datum.p=='G'"}],"mark":{"type":"square","filled":true,"color":"#0000c0","opacity":1},"encoding":{
  "x":{"field":"est","type":"quantitative","scale":{"type":"log","domain":[0.01,100],"range":[9,235],"nice":false}},
  "y":{"field":"row","type":"nominal","bandPosition":0.5,"scale":{"type":"band","domain":["lbl","sp","h1","h2","s1","s2","gap","total","events","het","test"],"paddingInner":0,"paddingOuter":0},"axis":null},
  "size":{"field":"w","type":"quantitative","scale":{"domain":[0,100],"range":[0,210]},"legend":null}}},
 {"data":{"name":"pooled"},"transform":[{"filter":"datum.p=='G'"}],"mark":{"type":"trail","color":"#000000"},"encoding":{
  "x":{"field":"value","type":"quantitative","scale":{"type":"log","domain":[0.01,100],"range":[9,235],"nice":false}},
  "y":{"datum":"total","type":"nominal","bandPosition":0.5,"scale":{"type":"band","domain":["lbl","sp","h1","h2","s1","s2","gap","total","events","het","test"],"paddingInner":0,"paddingOuter":0},"axis":null},
  "size":{"field":"kind","type":"nominal","scale":{"type":"point","domain":["edge","est"],"range":[0,12],"padding":0},"legend":null}}}
]}
]}
]
}
